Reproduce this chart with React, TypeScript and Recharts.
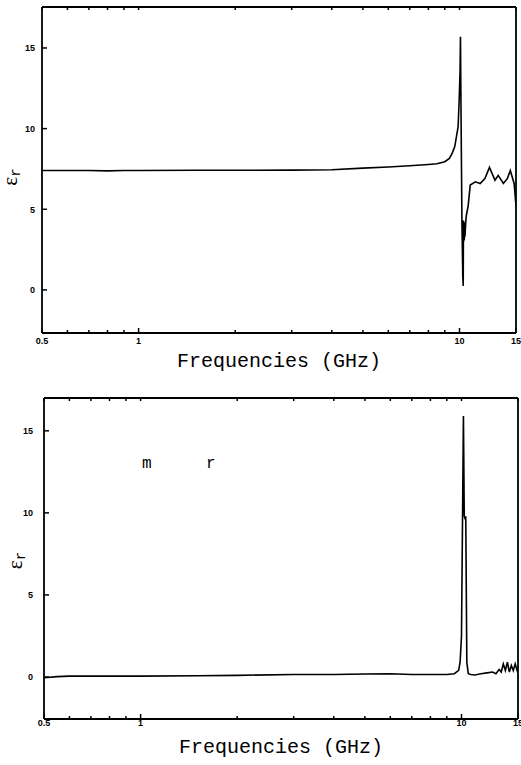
import { LineChart, Line, XAxis, YAxis, ReferenceLine, Label } from 'recharts';

const freqTicks = [0.5, 0.6, 0.7, 0.8, 0.9, 1, 2, 3, 4, 5, 6, 7, 8, 9, 10, 15];
const freqLabels = [0.5, 1, 10, 15];
const epsTicks = [0, 5, 10, 15];

// upper panel
const topFreq = [
  0.5, 0.6, 0.7, 0.8, 0.9, 1, 1.5, 2, 3, 4, 5, 6, 7, 8, 8.5, 9, 9.3, 9.5, 9.67, 9.8, 9.9, 9.97,
  10.04, 10.07, 10.12, 10.18, 10.24, 10.27, 10.29, 10.31, 10.33, 10.35, 10.37, 10.4, 10.45, 10.5,
  10.64, 10.8, 11.2, 11.6, 12, 12.4, 12.9, 13.2, 13.7, 14.1, 14.4, 14.8, 15,
];
const topEps = [
  7.4, 7.4, 7.4, 7.38, 7.4, 7.4, 7.42, 7.42, 7.43, 7.45, 7.55, 7.62, 7.7, 7.78, 7.82, 7.95, 8.15, 8.5, 8.9, 9.6, 10.1, 11.6,
  13.5, 15.7, 10.0, 4.0, 0.8, 0.25, 4.3, 3.0, 4.2, 3.1, 4.0, 3.3, 4.1, 4.6,
  5.2, 6.5, 6.7, 6.6, 6.9, 7.6, 6.8, 7.1, 6.6, 6.9, 7.4, 6.6, 5.2,
];

// lower panel
const bottomFreq = [
  0.5, 0.55, 0.6, 0.7, 0.8, 1, 1.5, 2, 3, 4, 5, 6, 7, 8, 9, 9.5, 9.8, 9.9, 10.0, 10.14, 10.2,
  10.28, 10.31, 10.39, 10.5, 10.7, 11, 11.5, 12, 12.5, 12.8, 13.1, 13.3, 13.5, 13.7, 13.9, 14.1,
  14.3, 14.5, 14.7, 14.9, 15,
];
const bottomEps = [
  -0.05, 0.02, 0.05, 0.05, 0.05, 0.05, 0.08, 0.1, 0.15, 0.15, 0.18, 0.2, 0.15, 0.15, 0.15, 0.2, 0.4, 0.9, 2.5, 15.9, 9.8,
  9.6, 9.8, 0.9, 0.2, 0.15, 0.12, 0.2, 0.25, 0.3, 0.2, 0.45, 0.3, 0.8, 0.4, 0.9, 0.3,
  0.7, 0.4, 0.8, 0.4, 0.5,
];

const toRows = (f: number[], e: number[]) => f.map((freq, i) => ({ freq, eps: e[i] }));

const tickFont = "'Liberation Sans', Arial, sans-serif";
const frame = { stroke: '#000', strokeWidth: 1.8 };

const bottomTick = (labelDy: number) => (props: any) => {
  const { x, y, payload } = props;
  const major = freqLabels.includes(payload.value);
  return (
    <g>
      <line x1={x} x2={x} y1={y} y2={y - (major ? 5 : 3)} stroke="#000" strokeWidth={1.5} />
      {major && (
        <text x={x} y={y + labelDy} textAnchor="middle" fontSize={9} fontWeight="bold" fontFamily={tickFont} fill="#000">
          {payload.value}
        </text>
      )}
    </g>
  );
};

const topTick = (props: any) => {
  const { x, y } = props;
  return <line x1={x} x2={x} y1={y} y2={y + 3} stroke="#000" strokeWidth={1.5} />;
};

const leftTick = (labelDx: number) => (props: any) => {
  const { x, y, payload } = props;
  return (
    <g>
      <line x1={x} x2={x + 5} y1={y} y2={y} stroke="#000" strokeWidth={1.5} />
      <text x={x - labelDx} y={y + 3.5} textAnchor="end" fontSize={9} fontWeight="bold" fontFamily={tickFont} fill="#000">
        {payload.value}
      </text>
    </g>
  );
};

const epsLabel = (dx: number, dy: number) => (props: any) => {
  const vb = props.viewBox;
  const cx = vb.x + vb.width + dx;
  const cy = vb.y + vb.height / 2 + dy;
  return (
    <text
      x={cx}
      y={cy}
      transform={`rotate(-90 ${cx} ${cy})`}
      textAnchor="middle"
      fontFamily="'Liberation Serif', serif"
      fontSize={21}
      fill="#000"
    >
      ε
      <tspan fontSize={14} dy={3} fontFamily="'Liberation Mono', monospace">
        r
      </tspan>
    </text>
  );
};

interface PanelProps {
  rows: { freq: number; eps: number }[];
  height: number;
  margin: { top: number; right: number; bottom: number; left: number };
  yDomain: [number, number];
  xLabelDy: number;
  yLabelDx: number;
  epsDx: number;
  epsDy: number;
}

const Panel = ({ rows, height, margin, yDomain, xLabelDy, yLabelDx, epsDx, epsDy }: PanelProps) => (
  <LineChart width={521} height={height} data={rows} margin={margin}>
    <XAxis
      dataKey="freq"
      type="number"
      scale="log"
      domain={[0.5, 15]}
      allowDataOverflow
      ticks={freqTicks}
      interval={0}
      height={20}
      tickSize={0}
      tickMargin={0}
      tickLine={false}
      tick={bottomTick(xLabelDy)}
      axisLine={frame}
    >
      <Label
        value="Frequencies (GHz)"
        position="bottom"
        offset={0}
        style={{ fontFamily: "'Liberation Mono', 'Courier New', monospace", fontSize: 20, fill: '#000' }}
      />
    </XAxis>
    <XAxis
      xAxisId="top"
      orientation="top"
      dataKey="freq"
      type="number"
      scale="log"
      domain={[0.5, 15]}
      allowDataOverflow
      ticks={freqTicks}
      interval={0}
      height={1}
      tickSize={0}
      tickMargin={0}
      tickLine={false}
      tick={topTick}
      axisLine={frame}
    />
    <YAxis
      type="number"
      domain={yDomain}
      allowDataOverflow
      ticks={epsTicks}
      interval={0}
      width={1}
      tickSize={0}
      tickMargin={0}
      tickLine={false}
      tick={leftTick(yLabelDx)}
      axisLine={frame}
    >
      <Label content={epsLabel(epsDx, epsDy)} />
    </YAxis>
    <ReferenceLine x={15} stroke="#000" strokeWidth={1.8} />
    <Line
      type="linear"
      dataKey="eps"
      stroke="#000"
      strokeWidth={1.6}
      dot={false}
      activeDot={false}
      isAnimationActive={false}
    />
  </LineChart>
);

export default function App() {
  return (
    <div style={{ position: 'absolute', left: 0, top: 0, width: 521, height: 765, background: '#fff', overflow: 'hidden' }}>
      <div style={{ position: 'absolute', left: 0, top: 0 }}>
        <Panel
          rows={toRows(topFreq, topEps)}
          height={380}
          margin={{ top: 6, right: 5, bottom: 27, left: 41 }}
          yDomain={[-2.67, 17.54]}
          xLabelDy={11}
          yLabelDx={7}
          epsDx={-25}
          epsDy={7}
        />
      </div>
      <div style={{ position: 'absolute', left: 0, top: 380 }}>
        <Panel
          rows={toRows(bottomFreq, bottomEps)}
          height={385}
          margin={{ top: 17, right: 3, bottom: 26, left: 43 }}
          yDomain={[-2.56, 17.0]}
          xLabelDy={7}
          yLabelDx={11}
          epsDx={-22}
          epsDy={2}
        />
      </div>
      <div style={{ position: 'absolute', left: 142, top: 456, fontFamily: "'Liberation Mono', monospace", fontSize: 16, lineHeight: '16px', color: '#000' }}>
        m
      </div>
      <div style={{ position: 'absolute', left: 206, top: 456, fontFamily: "'Liberation Mono', monospace", fontSize: 16, lineHeight: '16px', color: '#000' }}>
        r
      </div>
    </div>
  );
}
